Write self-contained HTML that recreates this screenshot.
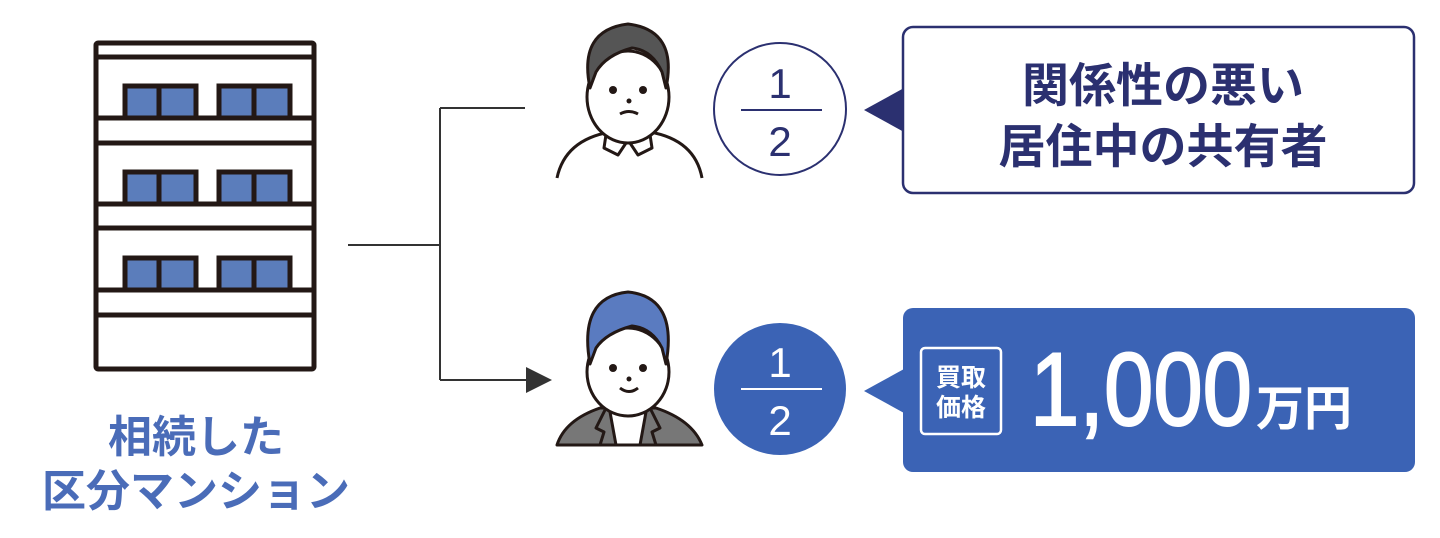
<!DOCTYPE html>
<html><head><meta charset="utf-8"><style>
html,body{margin:0;padding:0;background:#fff;}
svg{display:block}
text{font-family:"Liberation Sans","Noto Sans CJK JP",sans-serif;}
</style></head><body>
<svg width="1440" height="538" viewBox="0 0 1440 538" xmlns="http://www.w3.org/2000/svg">
<!-- building -->
<g stroke="#231815" stroke-width="5" fill="none">
<rect x="96" y="43" width="218" height="326" rx="2" fill="#fff"/>
<line x1="96" y1="57" x2="314" y2="57"/>
<line x1="96" y1="118" x2="314" y2="118"/>
<line x1="96" y1="143" x2="314" y2="143"/>
<line x1="96" y1="204" x2="314" y2="204"/>
<line x1="96" y1="228" x2="314" y2="228"/>
<line x1="96" y1="290" x2="314" y2="290"/>
<line x1="96" y1="315" x2="314" y2="315"/>
</g>
<g stroke="#231815" stroke-width="5" fill="#5b7dbb">
<rect x="125" y="86" width="71" height="32"/><rect x="219" y="86" width="71" height="32"/>
<rect x="125" y="172" width="71" height="32"/><rect x="219" y="172" width="71" height="32"/>
<rect x="125" y="258" width="71" height="32"/><rect x="219" y="258" width="71" height="32"/>
<line x1="159" y1="86" x2="159" y2="118"/><line x1="254" y1="86" x2="254" y2="118"/>
<line x1="159" y1="172" x2="159" y2="204"/><line x1="254" y1="172" x2="254" y2="204"/>
<line x1="159" y1="258" x2="159" y2="290"/><line x1="254" y1="258" x2="254" y2="290"/>
</g>
<text x="196" y="452" font-size="44" font-weight="bold" fill="#4a6cb8" text-anchor="middle">相続した</text>
<text x="196" y="506" font-size="44" font-weight="bold" fill="#4a6cb8" text-anchor="middle">区分マンション</text>
<!-- connectors -->
<g stroke="#333" stroke-width="2" fill="none">
<line x1="348" y1="245" x2="440" y2="245"/>
<line x1="440" y1="108" x2="440" y2="380"/>
<line x1="440" y1="108" x2="525" y2="108"/>
<line x1="440" y1="380" x2="528" y2="380"/>
</g>
<polygon points="526,367 552,380 526,393" fill="#333"/>
<!-- top person -->
<g stroke="#231815" stroke-width="3" stroke-linejoin="round">
<path d="M557,178 Q565,140 610,132 L650,132 Q695,140 702,178" fill="#fff"/>
<path d="M607,128 L604,148 L618,155 L628,140 L638,155 L652,148 L649,128" fill="#fff"/>
<ellipse cx="628" cy="97" rx="41" ry="46" fill="#fff"/>
<path d="M590,88 Q578,30 628,24 Q678,30 666,88 L662,72 Q652,50 632,48 Q606,55 596,72 Z" fill="#555"/>
</g>
<circle cx="613" cy="90" r="4" fill="#231815"/><circle cx="643" cy="90" r="4" fill="#231815"/>
<circle cx="629" cy="101" r="2.5" fill="#231815"/>
<path d="M620,114 Q629,109 638,114" stroke="#231815" stroke-width="3" fill="none"/>
<!-- bottom person -->
<g stroke="#231815" stroke-width="3" stroke-linejoin="round">
<path d="M557,445 Q565,420 600,408 L656,408 Q692,420 702,445 Z" fill="#777"/>
<path d="M610,412 L616,445 L640,445 L646,412 Z" fill="#fff"/>
<path d="M605,410 L596,428 L604,432 L600,445 M651,410 L660,428 L652,432 L656,445" fill="none"/>
<ellipse cx="628" cy="372" rx="41" ry="44" fill="#fff"/>
<path d="M590,364 Q578,297 628,292 Q678,297 666,364 L662,348 Q652,328 632,326 Q606,333 596,348 Z" fill="#5a7bc0"/>
</g>
<circle cx="613" cy="368" r="4" fill="#231815"/><circle cx="643" cy="368" r="4" fill="#231815"/>
<circle cx="629" cy="379" r="2.5" fill="#231815"/>
<path d="M620,388 Q629,395 638,388" stroke="#231815" stroke-width="3" fill="none"/>
<!-- circles -->
<circle cx="780" cy="109" r="66" fill="#fff" stroke="#2b3070" stroke-width="2"/>
<line x1="741" y1="110" x2="822" y2="110" stroke="#2b3070" stroke-width="2"/>
<text x="780" y="98" font-size="42" fill="#2b3070" text-anchor="middle">1</text>
<text x="780" y="156" font-size="42" fill="#2b3070" text-anchor="middle">2</text>
<circle cx="780" cy="389" r="66" fill="#3b63b5"/>
<line x1="741" y1="389" x2="822" y2="389" stroke="#fff" stroke-width="2"/>
<text x="780" y="377" font-size="42" fill="#fff" text-anchor="middle">1</text>
<text x="780" y="435" font-size="42" fill="#fff" text-anchor="middle">2</text>
<!-- top box -->
<rect x="903" y="27" width="511" height="166" rx="10" fill="#fff" stroke="#2b3070" stroke-width="2.5"/>
<polygon points="864,110 904,88 904,132" fill="#2b3070"/>
<text x="1163" y="102" font-size="47" font-weight="bold" fill="#2b3070" text-anchor="middle">関係性の悪い</text>
<text x="1163" y="163" font-size="47" font-weight="bold" fill="#2b3070" text-anchor="middle">居住中の共有者</text>
<!-- bottom box -->
<rect x="903" y="308" width="512" height="164" rx="10" fill="#3b63b5"/>
<polygon points="864,391 904,369 904,413" fill="#3b63b5"/>
<rect x="921" y="348" width="80" height="86" rx="4" fill="none" stroke="#fff" stroke-width="2.5"/>
<text x="961" y="386" font-size="25" font-weight="bold" fill="#fff" text-anchor="middle">買取</text>
<text x="961" y="416" font-size="25" font-weight="bold" fill="#fff" text-anchor="middle">価格</text>
<text x="1030" y="425" font-size="104" fill="#fff" stroke="#fff" stroke-width="2" textLength="222" lengthAdjust="spacingAndGlyphs">1,000</text>
<text x="1256" y="425" font-size="48" font-weight="bold" fill="#fff">万円</text>
</svg>
</body></html>
